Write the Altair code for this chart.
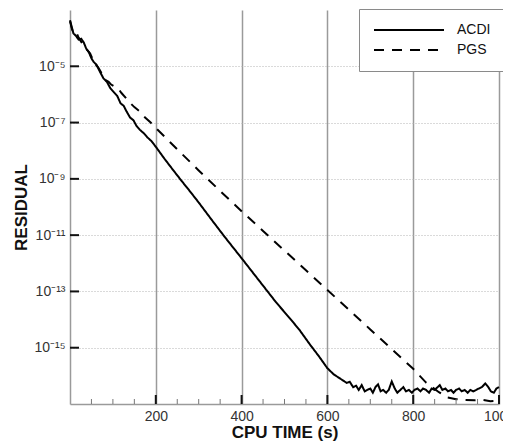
import altair as alt
import pandas as pd

# ---------------- data (log10 of residual) ----------------
acdi_x = [0, 4, 8, 14, 20, 26, 32, 38, 44, 50, 55, 62, 70, 78, 86, 94, 101, 110, 118, 125,
          132, 140, 148, 155, 163, 172, 180, 190, 200, 220, 240, 260, 280, 300, 330, 360,
          400, 440, 480, 516, 535, 560, 580, 600, 615, 630, 645, 652,
          660, 667, 673, 680, 687, 693, 700, 706, 712, 718, 724, 730, 737, 743, 750, 757,
          763, 770, 777, 783, 790, 797, 803, 810, 817, 823, 830, 837, 843, 850, 857, 862,
          868, 875, 881, 888, 894, 900, 907, 913, 920, 927, 933, 940, 947, 953, 960, 968,
          975, 981, 988, 994, 1000]
acdi_log = [-3.36, -3.6, -3.83, -3.92, -4.05, -4.02, -4.15, -4.38, -4.5, -4.72, -4.84, -4.95,
            -5.2, -5.43, -5.55, -5.78, -5.9, -6.05, -6.32, -6.4, -6.61, -6.82, -6.92, -7.12,
            -7.26, -7.38, -7.52, -7.66, -7.86, -8.28, -8.68, -9.07, -9.45, -9.84, -10.45,
            -11.05, -11.82, -12.6, -13.38, -14.02, -14.37, -14.9, -15.3, -15.73, -15.95,
            -16.1, -16.25, -16.21,
            -16.4, -16.35, -16.5, -16.33, -16.55, -16.5, -16.45, -16.6, -16.4, -16.3, -16.55,
            -16.5, -16.6, -16.5, -16.2, -16.45, -16.6, -16.5, -16.4, -16.55, -16.5, -16.6,
            -16.5, -16.45, -16.55, -16.45, -16.5, -16.6, -16.45, -16.5, -16.4, -16.33, -16.5,
            -16.45, -16.55, -16.5, -16.6, -16.5, -16.45, -16.55, -16.5, -16.6, -16.5, -16.55,
            -16.5, -16.45, -16.4, -16.27, -16.4, -16.55, -16.6, -16.45, -16.4]

pgs_x = [0, 5, 10, 15, 20, 27, 33, 40, 47, 53, 60, 66, 72, 78, 84, 90, 96, 104, 112, 120,
         130, 140, 150, 163, 175, 188, 200, 250, 300, 350, 400, 450, 500, 550, 600, 650,
         700, 750, 800, 830, 860, 880, 900, 920, 943, 960, 980, 1000]
pgs_log = [-3.4, -3.7, -3.85, -3.8, -3.98, -4.15, -4.3, -4.42, -4.55, -4.75, -4.95, -5.05,
           -5.2, -5.4, -5.5, -5.55, -5.65, -5.72, -5.78, -5.95, -6.12, -6.3, -6.45, -6.61,
           -6.82, -7.0, -7.19, -7.95, -8.7, -9.43, -10.15, -10.85, -11.55, -12.25, -12.95,
           -13.65, -14.35, -15.05, -15.75, -16.24, -16.58, -16.77, -16.83, -16.86, -16.87,
           -16.85, -16.9, -16.88]

series_names = ["ACDI", "PGS"]

xtick_values = [200, 400, 600, 800, 1000]
xminor_values = [50, 100, 150, 250, 300, 350, 450, 500, 550, 650, 700, 750, 850, 900, 950]
ytick_values = [1e-5, 1e-7, 1e-9, 1e-11, 1e-13, 1e-15]
ytick_labels = ["10⁻⁵", "10⁻⁷", "10⁻⁹", "10⁻¹¹", "10⁻¹³", "10⁻¹⁵"]

# ---------------- tables ----------------
rows = []
for xv, lv in zip(acdi_x, acdi_log):
    rows.append({"t": xv, "r": 10 ** lv, "s": "ACDI"})
for xv, lv in zip(pgs_x, pgs_log):
    rows.append({"t": xv, "r": 10 ** lv, "s": "PGS"})
df = pd.DataFrame(rows)

W, H = 429, 394
FONT = "Liberation Sans"
xscale = alt.Scale(domain=[0, 1000], nice=False, zero=False)
yscale = alt.Scale(type="log", domain=[1e-17, 1e-3], nice=False)

label_expr = ""
for v, l in zip(ytick_values, ytick_labels):
    label_expr += f"datum.value > {v / 3:.3e} ? '{l}' : "
label_expr += "''"

x_axis = alt.Axis(values=xtick_values, format="d", grid=True, gridColor="#9a9a9a", gridWidth=1.5,
                  ticks=False, domainColor="#9a9a9a", domainWidth=1.5, labelFlush=False,
                  labelFont=FONT, labelFontSize=14, labelColor="#333",
                  labelPadding=5, titleFont=FONT, titleFontSize=17,
                  titleFontWeight="bold", titleColor="#111", titlePadding=1)
y_axis = alt.Axis(values=ytick_values, grid=True, gridColor="#b5b5b5", gridWidth=1,
                  gridDash=[1, 2], ticks=False, domainColor="#9a9a9a", domainWidth=1.5,
                  labelFlush=False,
                  labelExpr=label_expr, labelFont=FONT, labelFontSize=14,
                  labelColor="#333", labelPadding=5, titleFont=FONT, titleFontSize=17,
                  titleFontWeight="bold", titleColor="#111", titlePadding=3)
XT = "CPU TIME (s)"
YT = "RESIDUAL"

lines = alt.Chart(df).mark_line(color="black", strokeWidth=2).encode(
    x=alt.X("t:Q", scale=xscale, title=XT, axis=x_axis),
    y=alt.Y("r:Q", scale=yscale, title=YT, axis=y_axis),
    strokeDash=alt.StrokeDash("s:N", scale=alt.Scale(domain=series_names, range=[[1, 0], [10, 8]]),
                              legend=alt.Legend(orient="none", legendX=289, legendY=-1, title=None,
                                                fillColor="white", strokeColor="#8a8a8a",
                                                padding=14, symbolType="M-7,0H7", symbolSize=100,
                                                symbolOffset=29, symbolFillColor="transparent",
                                                symbolStrokeWidth=2, symbolStrokeColor="black",
                                                labelFont=FONT, labelFontSize=14, labelColor="#111",
                                                labelOffset=41, rowPadding=6)),
)

xt = pd.DataFrame({"t": xtick_values})
xm = pd.DataFrame({"t": xminor_values})
yt = pd.DataFrame({"r": ytick_values})

x_major = alt.Chart(xt).mark_rule(color="#111", strokeWidth=2).encode(
    x=alt.X("t:Q", scale=xscale, title=XT, axis=x_axis), y=alt.value(H - 9), y2=alt.value(H))
x_minor = alt.Chart(xm).mark_rule(color="#777", strokeWidth=1).encode(
    x=alt.X("t:Q", scale=xscale, title=XT, axis=x_axis), y=alt.value(H - 5), y2=alt.value(H))
y_major = alt.Chart(yt).mark_rule(color="#111", strokeWidth=2).encode(
    y=alt.Y("r:Q", scale=yscale, title=YT, axis=y_axis), x=alt.value(0), x2=alt.value(9))

chart = alt.layer(lines, x_major, x_minor, y_major).properties(
    width=W, height=H,
    autosize=alt.AutoSizeParams(type="none"),
    padding={"left": 62, "top": 2, "right": 4, "bottom": 37},
    background="white",
).configure_view(stroke=None)

chart.save("out.html", embed_options={"renderer": "svg", "actions": False})
